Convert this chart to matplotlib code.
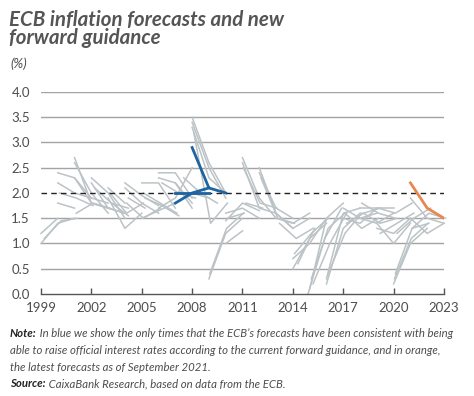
import numpy as np
import matplotlib
matplotlib.use("Agg")
import matplotlib.pyplot as plt

# each forecast vintage: first year shown + yearly forecast values
GRAY_START = [
    1999.0, 1999.0, 1999.2, 2000.0, 2000.0, 2000.0, 2000.1, 2001.0, 2001.0, 2001.0, 2001.1,
    2002.0, 2002.0, 2002.0, 2002.2, 2003.0, 2003.0, 2003.1, 2003.2, 2004.0, 2004.0, 2004.1, 2004.2,
    2005.0, 2005.0, 2005.1, 2005.2, 2006.0, 2006.0, 2006.0, 2006.2, 2007.0, 2007.0, 2007.5,
    2008.0, 2008.0, 2008.0, 2008.1, 2009.0, 2009.05, 2010.0, 2010.0, 2010.0, 2010.1,
    2011.0, 2011.0, 2011.05, 2011.2, 2012.0, 2012.0, 2012.1, 2013.0, 2013.0, 2013.2,
    2014.0, 2014.0, 2014.1, 2014.3, 2014.9, 2015.0, 2015.1, 2015.2, 2016.0, 2016.0, 2016.1,
    2017.0, 2017.0, 2017.1, 2017.2, 2018.0, 2018.0, 2018.1, 2018.2, 2019.0, 2019.0, 2019.1, 2019.2,
    2020.0, 2020.05, 2020.1, 2020.2, 2021.0, 2021.0, 2021.1,
]
GRAY_VALUES = [
    [1.0, 1.4, 1.5], [1.2, 1.5], [1.1, 1.45, 1.5], [2.4, 2.3, 1.8], [2.2, 2.0, 1.9], [1.8, 1.7],
    [2.0, 1.9, 1.75], [2.7, 1.8, 1.7], [2.6, 2.0, 1.6], [2.3, 1.9, 1.8], [1.6, 1.8, 1.7],
    [2.3, 2.0, 1.5], [2.2, 1.7, 1.6], [1.8, 1.7, 1.6], [2.1, 1.8, 1.7], [2.1, 1.8], [1.9, 1.3, 1.6],
    [2.0, 1.6, 1.8], [1.8, 1.55], [2.2, 1.95, 1.75], [2.1, 1.8, 1.6], [1.8, 1.5, 1.7], [1.9, 1.7],
    [2.2, 2.2, 1.7], [1.5, 1.65, 1.8], [2.0, 1.8, 1.6], [1.9, 1.75, 1.55], [2.4, 2.4, 1.9],
    [2.3, 2.2, 1.8], [1.7, 1.9, 2.5], [2.2, 2.0, 1.9], [2.2, 1.7], [2.0, 2.0, 1.9], [2.3, 2.0, 1.8],
    [3.5, 2.6, 2.0], [3.4, 2.5, 1.9], [3.3, 2.3, 2.0], [3.2, 1.4, 1.8], [0.3, 1.2, 1.5],
    [0.4, 1.3, 1.6], [1.0, 1.25], [1.6, 1.7, 1.5], [1.45, 1.8, 1.65], [1.5, 1.6],
    [2.7, 1.9, 1.5], [2.6, 1.7, 1.6], [2.5, 1.8, 1.7], [1.8, 1.7], [2.5, 1.6, 1.3], [2.4, 1.7, 1.5],
    [2.3, 1.5, 1.4], [1.6, 1.3, 1.5], [1.5, 1.4, 1.6], [1.4, 1.1, 1.3],
    [0.7, 1.0, 1.5], [0.5, 1.1, 1.4], [0.8, 1.2, 1.5], [0.6, 1.3], [0.0, 1.1, 1.7], [0.1, 1.5, 1.8],
    [0.3, 1.3, 1.6], [0.2, 1.0, 1.6], [0.2, 1.3, 1.6], [0.3, 1.6, 1.7], [0.4, 1.2, 1.6],
    [1.7, 1.5, 1.6], [1.5, 1.4, 1.7], [1.6, 1.3, 1.5], [1.4, 1.6, 1.7], [1.7, 1.7, 1.7],
    [1.5, 1.4, 1.6], [1.8, 1.6, 1.5], [1.6, 1.4, 1.5], [1.4, 1.0, 1.4], [1.3, 1.2, 1.5],
    [1.7, 1.6, 1.8], [1.2, 1.4, 1.6], [0.2, 1.0, 1.3], [0.3, 1.1, 1.4], [0.4, 1.3, 1.4],
    [1.2, 1.5, 1.7], [1.9, 1.5, 1.4], [1.5, 1.2, 1.4], [1.3, 1.6, 1.5],
]
BLUE_START = [2007.0, 2007.0, 2008.0]
BLUE_VALUES = [[1.8, 2.0, 2.1], [2.0, 2.0, 2.0], [2.9, 2.1, 2.0]]
ORANGE_START = [2021.0]
ORANGE_VALUES = [[2.2, 1.7, 1.5]]

TARGET = 2.0
YEAR_TICKS = list(range(1999, 2024, 3))
Y_TICKS = [0.0, 0.5, 1.0, 1.5, 2.0, 2.5, 3.0, 3.5, 4.0]

TEXT_COLOR = "#4d4d4d"
NOTE_SIZE = 8.2
plt.rcParams["font.family"] = ["Lato", "DejaVu Sans"]

fig = plt.figure(figsize=(4.74, 3.96), dpi=100)
ax = fig.add_axes([0.0865, 0.2576, 0.8502, 0.5101])

# horizontal grid, the 2% line is drawn dashed instead
for v in Y_TICKS[1:]:
    if v == TARGET:
        continue
    ax.axhline(v, color="#a3a3a3", lw=1.0, zorder=1)
ax.axhline(TARGET, color="#222222", lw=1.0, ls=(0, (4, 3)), zorder=3)

for x0, vals in zip(GRAY_START, GRAY_VALUES):
    ax.plot(x0 + np.arange(len(vals)), vals, color="#bcc3c6", lw=1.1, zorder=2, clip_on=False)
for x0, vals in zip(BLUE_START, BLUE_VALUES):
    ax.plot(x0 + np.arange(len(vals)), vals, color="#1d64a0", lw=2.0, zorder=4)
for x0, vals in zip(ORANGE_START, ORANGE_VALUES):
    ax.plot(x0 + np.arange(len(vals)), vals, color="#e8874f", lw=2.0, zorder=4)

ax.set_xlim(1999, 2023)
ax.set_ylim(0, 4.0)
for s in ["top", "right", "left"]:
    ax.spines[s].set_visible(False)
ax.spines["bottom"].set_color("#555555")
ax.spines["bottom"].set_linewidth(1.0)

ax.set_xticks(YEAR_TICKS)
ax.set_yticks(Y_TICKS)
ax.set_yticklabels([f"{v:.1f}" for v in Y_TICKS])
ax.tick_params(axis="x", direction="in", length=4, width=1, color="#555555",
               labelsize=9.5, labelcolor=TEXT_COLOR, pad=6)
ax.tick_params(axis="y", length=0, labelsize=9.5, labelcolor=TEXT_COLOR, pad=8)

# title as two lines, baselines placed separately
for txt, yy in [("ECB inflation forecasts and new", 0.9343), ("forward guidance", 0.8889)]:
    fig.text(0.019, yy, txt, fontsize=14.8, fontweight="bold", fontstyle="italic",
             color="#555555", va="baseline")
fig.text(0.021, 0.828, "(%)", fontsize=9.5, fontstyle="italic", color=TEXT_COLOR)

# note and source; bold lead words followed by the italic rest
fig.canvas.draw()
r = fig.canvas.get_renderer()
y0 = 0.148
step = 0.042
lines = [
    ("Note:", " In blue we show the only times that the ECB\u2019s forecasts have been consistent with being"),
    ("", "able to raise official interest rates according to the current forward guidance, and in orange,"),
    ("", "the latest forecasts as of September 2021."),
    ("Source:", " CaixaBank Research, based on data from the ECB."),
]
for i, (lead, rest) in enumerate(lines):
    yy = y0 - i * step
    x = 0.021
    if lead:
        t = fig.text(x, yy, lead, fontsize=NOTE_SIZE, fontweight="bold", fontstyle="italic",
                     color="#222222")
        x = t.get_window_extent(r).x1 / fig.bbox.width
    fig.text(x, yy, rest, fontsize=NOTE_SIZE, fontstyle="italic", color=TEXT_COLOR)

fig.savefig("out.png", dpi=100)
